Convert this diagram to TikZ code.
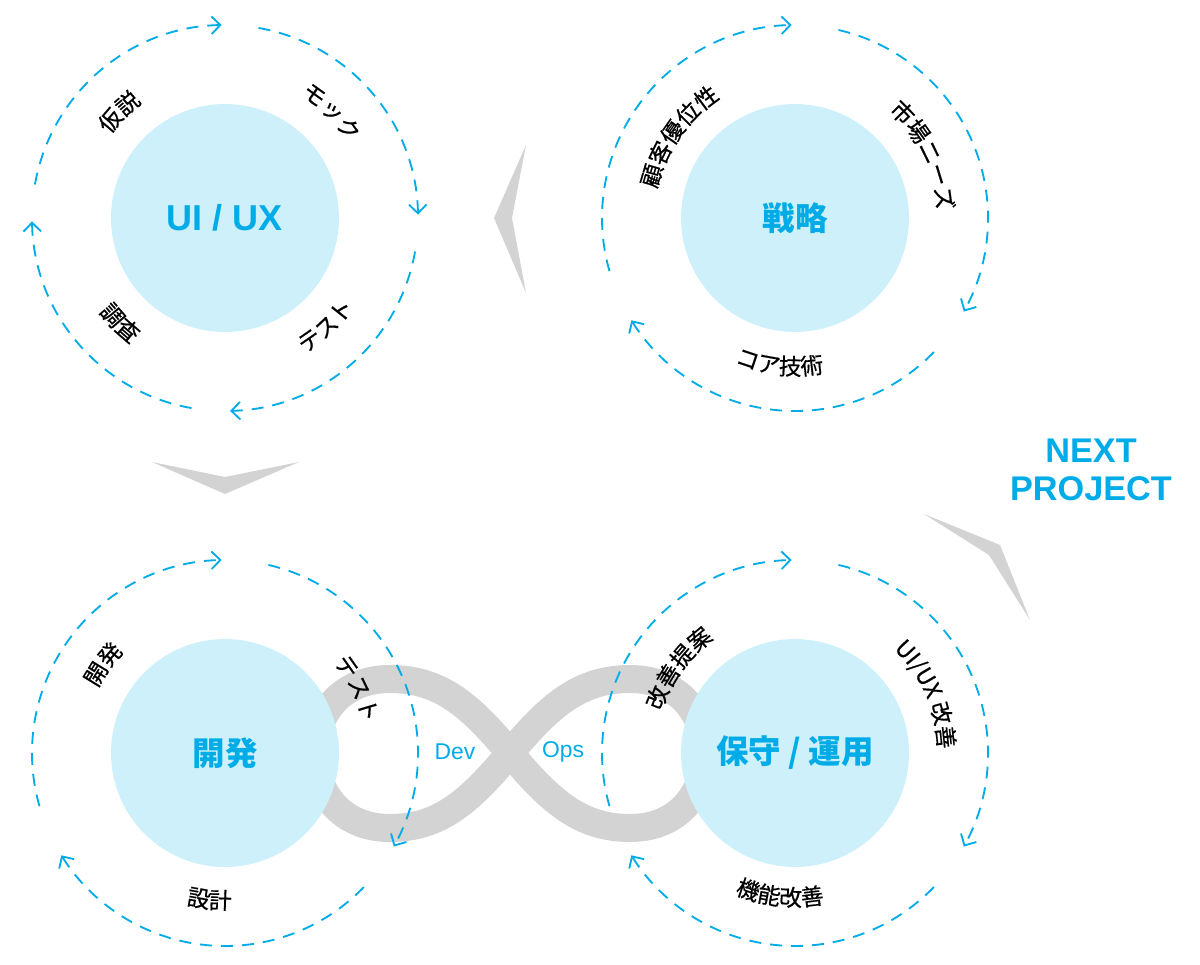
\documentclass[tikz,border=0pt]{standalone}
\usepackage{fontspec}
\setmainfont{Liberation Sans}
\newfontfamily\jpfont{Noto Sans CJK JP}
\newfontfamily\jplblfont[FakeBold=0.6]{Noto Sans CJK JP}
\definecolor{ringblue}{RGB}{0,172,232}
\definecolor{hubfill}{RGB}{205,240,250}
\definecolor{bandgray}{RGB}{211,211,211}
\newcommand{\lblfont}{\jplblfont\fontsize{13}{15}\selectfont}
\usetikzlibrary{arrows.meta,decorations.text}

\begin{document}
\begin{tikzpicture}[
    x=0.02cm, y=0.02cm,
    hub/.style={circle, fill=hubfill, minimum size=4.56cm, inner sep=0pt, text=ringblue, font=\bfseries\fontsize{20.5}{24}\selectfont},
    jphub/.style={hub, font=\jpfont\bfseries\fontsize{18.5}{22}\selectfont},
    ring/.style={draw=ringblue, line width=1.05pt, dash pattern=on 0.24cm off 0.18cm, -{Straight Barb[length=5pt,width=10pt]}},
    band/.style={draw=bandgray, line width=0.56cm},
    chevron/.style={fill=bandgray},
    arclbl/.style={decorate, decoration={text along path, text align=center, text={|\lblfont|#1}}},
    devops/.style={text=ringblue, font=\fontsize{13}{15}\selectfont}
]
    \useasboundingbox (0,0) rectangle (1200,-964);

    % DevOps loop behind the lower circles
    \coordinate (x) at (510,-753);
    \draw[band] (x) .. controls (470,-705) and (440,-679) .. (390,-679)
        .. controls (340,-679) and (315,-715) .. (315,-753)
        .. controls (315,-791) and (340,-828) .. (390,-828)
        .. controls (440,-828) and (470,-801) .. (x)
        .. controls (550,-705) and (580,-679) .. (630,-679)
        .. controls (680,-679) and (705,-715) .. (705,-753)
        .. controls (705,-791) and (680,-828) .. (630,-828)
        .. controls (580,-828) and (550,-801) .. cycle;

    \node[hub] (uiux) at (225,-218) {UI / UX};
    \node[jphub] (strategy) at (795,-218) {戦略};
    \node[jphub] (dev) at (225,-753) {開発};
    \node[jphub] (ops) at (795,-753) {保守 / 運用};

    % cycles
    \foreach \s/\e in {170/91, 80/1, -10/-88.5, -100/-179}
        \draw[ring] (uiux.center) ++(\s:193) arc[start angle=\s, end angle=\e, radius=193];
    \foreach \hub in {strategy, dev, ops}
        \foreach \s/\e in {196/91, 77/-29, -44/-148}
            \draw[ring] (\hub.center) ++(\s:193) arc[start angle=\s, end angle=\e, radius=193];

    % labels along the cycles
    \path[arclbl=仮説] (uiux.center) ++(175:142) arc[start angle=175, end angle=95, radius=142];
    \path[arclbl=モック] (uiux.center) ++(85:144) arc[start angle=85, end angle=5, radius=144];
    \path[arclbl=テスト] (uiux.center) ++(-87:157) arc[start angle=-87, end angle=-7, radius=157];
    \path[arclbl=調査] (uiux.center) ++(-175:157) arc[start angle=-175, end angle=-95, radius=157];

    \path[arclbl=顧客優位性] (strategy.center) ++(185:141) arc[start angle=185, end angle=105, radius=141];
    \path[arclbl=市場ニーズ] (strategy.center) ++(66:142) arc[start angle=66, end angle=-14, radius=142];
    \path[arclbl=コア技術] (strategy.center) ++(-136:157) arc[start angle=-136, end angle=-56, radius=157];

    \path[arclbl=開発] (dev.center) ++(184:143) arc[start angle=184, end angle=104, radius=143];
    \path[arclbl=テスト] (dev.center) ++(66:141) arc[start angle=66, end angle=-14, radius=141];
    \path[arclbl=設計] (dev.center) ++(-136:156) arc[start angle=-136, end angle=-56, radius=156];

    \path[arclbl=改善提案] (ops.center) ++(184:140) arc[start angle=184, end angle=104, radius=140];
    \path[arclbl=UI/UX 改善] (ops.center) ++(69:143) arc[start angle=69, end angle=-21, radius=143];
    \path[arclbl=機能改善] (ops.center) ++(-136:153) arc[start angle=-136, end angle=-56, radius=153];

    \node[devops] (devtxt) at (455,-752) {Dev};
    \node[devops] (opstxt) at (563,-752) {Ops};

    % flow chevrons
    \fill[chevron] (526,-145) -- (494,-218) -- (526,-293) -- (512,-218) -- cycle;
    \fill[chevron] (152,-462) -- (225,-477) -- (299,-462) -- (225,-494) -- cycle;
    \fill[chevron] (924,-514) -- (1000,-545) -- (1030,-620) -- (989,-555) -- cycle;

    \node[text=ringblue, font=\bfseries\fontsize{19.5}{22}\selectfont, align=center] (next) at (1091,-470) {NEXT\\PROJECT};
\end{tikzpicture}
\end{document}
